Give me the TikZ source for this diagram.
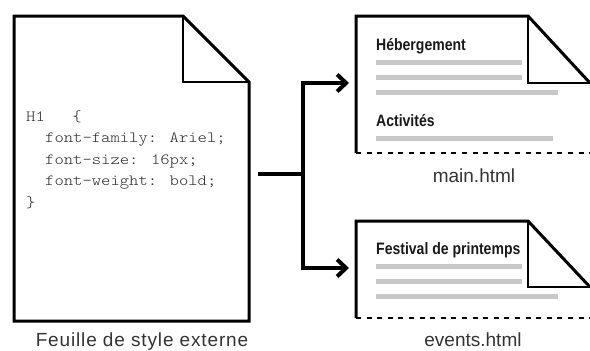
\documentclass[tikz,border=0pt]{standalone}
\usepackage{fontspec}
\setmainfont{Liberation Sans}
\newfontfamily\codefont{lmmonolt10-regular}[Extension=.otf, FakeStretch=1.14]
\newfontfamily\headfont{Liberation Sans}[FakeStretch=0.85]
\newfontfamily\widefont{Liberation Sans}[LetterSpace=4.5]
\usetikzlibrary{arrows.meta}
\definecolor{barcol}{HTML}{C8C8C8}
\definecolor{ink}{HTML}{333333}
\definecolor{codecol}{HTML}{2A2A2A}
\tikzset{
  docline/.style={line width=3pt, line join=miter},
  foldline/.style={line width=1.6pt},
  dashline/.style={line width=2pt, dash pattern=on 5pt off 5.6pt},
  barline/.style={line width=5pt, draw=barcol},
  codetext/.style={anchor=base west, inner sep=0pt, font=\codefont\fontsize{15.6}{19}\selectfont, text=codecol},
  headtext/.style={anchor=base west, inner sep=0pt, font=\headfont\bfseries\fontsize{16.5}{19}\selectfont, text=black!90},
  filelabel/.style={anchor=base, inner sep=0pt, font=\fontsize{19}{22}\selectfont, text=ink},
  flowline/.style={line width=4pt, line join=miter},
  flowarrow/.style={flowline, -{Straight Barb[length=9pt,width=17pt]}}
}
\begin{document}
\begin{tikzpicture}[x=1pt,y=-1pt]
\useasboundingbox (0,0) rectangle (590,351);

% --- external style sheet
\draw[docline] (14,16) -- (183,16) -- (249,82) -- (249,321) -- (14,321) -- cycle;
\draw[foldline] (183,16) -- (183,82) -- (249,82);
\node[codetext] (c1) at (26,121) {H1\hspace{27.5pt}\{};
\node[codetext] (c2) at (26,142.5) {\hspace{19pt}font-family: Ariel;};
\node[codetext] (c3) at (26,164) {\hspace{19pt}font-size: 16px;};
\node[codetext] (c4) at (26,185.5) {\hspace{19pt}font-weight: bold;};
\node[codetext] (c5) at (26,207) {\}};
\node[filelabel, font=\widefont\fontsize{19}{22}\selectfont] (lcss) at (142,346) {Feuille de style externe};

% --- main.html
\draw[docline] (356,153) -- (356,16) -- (528,16) -- (590,83);
\draw[foldline] (528,16) -- (528,83) -- (590,83);
\draw[dashline] (356,153) -- (592,153);
\node[headtext] (h1) at (376,50) {Hébergement};
\draw[barline] (376,62) -- (522,62);
\draw[barline] (376,77) -- (522,77);
\draw[barline] (376,92) -- (558,92);
\node[headtext] (h2) at (376,126) {Activités};
\draw[barline] (376,138) -- (553,138);
\node[filelabel] (lmain) at (474,182) {main.html};

% --- events.html
\draw[docline] (356,318) -- (356,221) -- (528,221) -- (590,287);
\draw[foldline] (528,221) -- (528,287) -- (590,287);
\draw[dashline] (356,318) -- (592,318);
\node[headtext] (h3) at (376,254) {Festival de printemps};
\draw[barline] (376,266) -- (522,266);
\draw[barline] (376,281) -- (522,281);
\draw[barline] (376,296) -- (558,296);
\node[filelabel] (levents) at (473,346) {events.html};

% --- connectors
\coordinate (out) at (258,174);
\coordinate (fork) at (303,174);
\coordinate (inmain) at (349,83);
\coordinate (inevents) at (349,268);
\draw[flowline] (out) -- (fork);
\draw[flowarrow] (fork) |- (inmain);
\draw[flowarrow] (fork) |- (inevents);
\end{tikzpicture}
\end{document}
